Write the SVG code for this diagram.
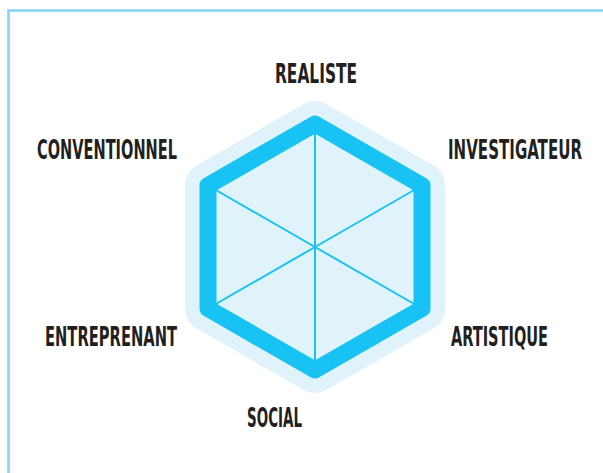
<svg xmlns="http://www.w3.org/2000/svg" width="603" height="473" viewBox="0 0 603 473">
<style>
.lbl{font-family:"DejaVu Sans Condensed","DejaVu Sans",sans-serif;font-weight:bold;font-size:26px;fill:#231f20;}
</style>
<rect width="603" height="473" fill="#ffffff"/>
<rect id="frame" x="8.5" y="10.5" width="700" height="600" fill="none" stroke="#7fd4f5" stroke-width="2.5"/>
<g id="hexagon">
<polygon points="315,124 422,185.5 422,308.5 315,370 208,308.5 208,185.5" fill="#e0f3fb" stroke="#e0f3fb" stroke-width="46" stroke-linejoin="round"/>
<polygon points="315,124 422,185.5 422,308.5 315,370 208,308.5 208,185.5" fill="none" stroke="#18c2f2" stroke-width="17" stroke-linejoin="round"/>
</g>
<g id="connectors" stroke="#18c2f2" stroke-width="2">
<line x1="315" y1="247" x2="315" y2="124"/>
<line x1="315" y1="247" x2="422" y2="185.5"/>
<line x1="315" y1="247" x2="422" y2="308.5"/>
<line x1="315" y1="247" x2="315" y2="370"/>
<line x1="315" y1="247" x2="208" y2="308.5"/>
<line x1="315" y1="247" x2="208" y2="185.5"/>
</g>
<g id="realiste" transform="translate(275,83) scale(0.63,1)"><text class="lbl" x="0" y="0" textLength="130.2" lengthAdjust="spacingAndGlyphs">REALISTE</text></g>
<g id="investigateur" transform="translate(448,159) scale(0.63,1)"><text class="lbl" x="0" y="0" textLength="212.7" lengthAdjust="spacingAndGlyphs">INVESTIGATEUR</text></g>
<g id="artistique" transform="translate(451,346) scale(0.63,1)"><text class="lbl" x="0" y="0" textLength="154" lengthAdjust="spacingAndGlyphs">ARTISTIQUE</text></g>
<g id="social" transform="translate(247,427) scale(0.63,1)"><text class="lbl" x="0" y="0" textLength="87.3" lengthAdjust="spacingAndGlyphs">SOCIAL</text></g>
<g id="entreprenant" transform="translate(45,346) scale(0.63,1)"><text class="lbl" x="0" y="0" textLength="209.5" lengthAdjust="spacingAndGlyphs">ENTREPRENANT</text></g>
<g id="conventionnel" transform="translate(37,159) scale(0.63,1)"><text class="lbl" x="0" y="0" textLength="222.2" lengthAdjust="spacingAndGlyphs">CONVENTIONNEL</text></g>
</svg>
